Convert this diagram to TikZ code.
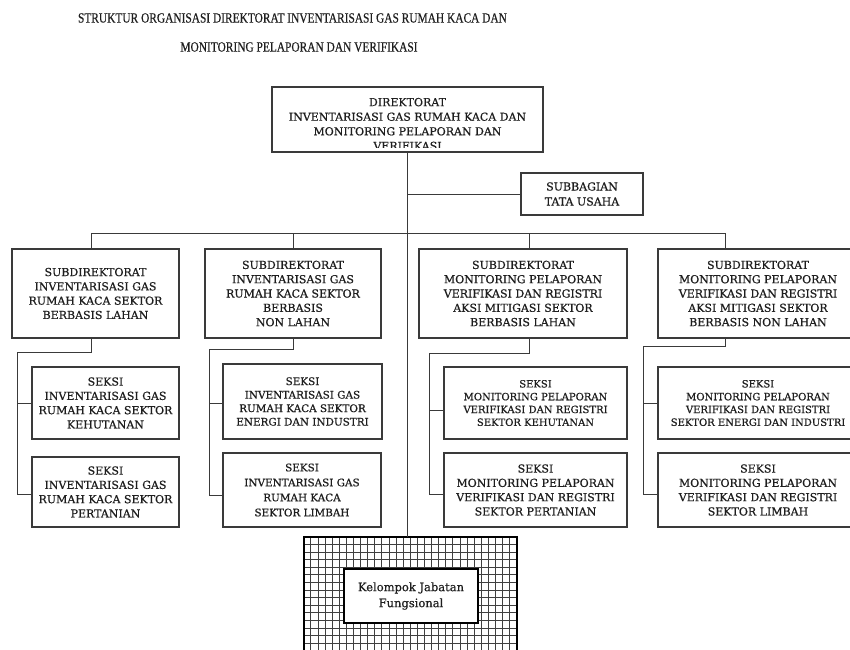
\documentclass[tikz,border=0pt]{standalone}
\usepackage{fontspec}
\setmainfont[FakeBold=0.6]{DejaVu Serif}
\newfontfamily\titlefont[FakeBold=0.4]{Liberation Serif}
\usetikzlibrary{calc}
\definecolor{ink}{HTML}{1e1e1e}
\definecolor{linec}{HTML}{3a3a3a}
\begin{document}
\begin{tikzpicture}[x=1pt,y=-1pt,
  box/.style={draw=linec, line width=1.2pt, inner sep=0pt, align=center, text=ink},
  big/.style={font=\fontsize{11}{14.3}\selectfont},
  mid/.style={font=\fontsize{10.4}{13.5}\selectfont},
  small/.style={font=\fontsize{10}{12.8}\selectfont},
  conn/.style={draw=linec, line width=1pt},
  ttl/.style={font=\titlefont\fontsize{14}{16}\selectfont, text=ink, inner sep=0pt}]
\useasboundingbox (0,0) rectangle (850,649);
\clip (0,0) rectangle (850,649);
\fill[white] (0,0) rectangle (850,649);
% title
\node[ttl] (t1) at (292.5,18) {\scalebox{0.815}[1]{STRUKTUR ORGANISASI DIREKTORAT INVENTARISASI GAS RUMAH KACA DAN}};
\node[ttl] (t2) at (299,47) {\scalebox{0.815}[1]{MONITORING PELAPORAN DAN VERIFIKASI}};
% direktorat
\node[box, minimum width=271, minimum height=65] (dir) at (407.5,119.5) {};
\begin{scope}
  \clip ($(dir.south west)+(0,-5)$) rectangle (dir.north east);
  \node[box, draw=none, font=\fontsize{11}{14.6}\selectfont] (dirt) at (407.5,124) {DIREKTORAT\\INVENTARISASI GAS RUMAH KACA DAN\\MONITORING PELAPORAN DAN\\VERIFIKASI};
\end{scope}
% subbagian
\node[box, minimum width=122, minimum height=42, font=\fontsize{11}{15}\selectfont] (sub) at (582,194) {SUBBAGIAN\\TATA USAHA};
% subdirektorat
\node[box, big, minimum width=167, minimum height=89] (s1) at (95.5,293.5) {SUBDIREKTORAT\\INVENTARISASI GAS\\RUMAH KACA SEKTOR\\BERBASIS LAHAN};
\node[box, big, minimum width=176, minimum height=89] (s2) at (293,293.5) {SUBDIREKTORAT\\INVENTARISASI GAS\\RUMAH KACA SEKTOR\\BERBASIS\\NON LAHAN};
\node[box, big, minimum width=208, minimum height=89] (s3) at (523,293.5) {SUBDIREKTORAT\\MONITORING PELAPORAN\\VERIFIKASI DAN REGISTRI\\AKSI MITIGASI SEKTOR\\BERBASIS LAHAN};
\node[box, big, minimum width=200, minimum height=89] (s4) at (758,293.5) {SUBDIREKTORAT\\MONITORING PELAPORAN\\VERIFIKASI DAN REGISTRI\\AKSI MITIGASI SEKTOR\\BERBASIS NON LAHAN};
% seksi
\node[box, big, minimum width=147, minimum height=72] (a1) at (105.5,403) {SEKSI\\INVENTARISASI GAS\\RUMAH KACA SEKTOR\\KEHUTANAN};
\node[box, big, minimum width=147, minimum height=70] (b1) at (105.5,492) {SEKSI\\INVENTARISASI GAS\\RUMAH KACA SEKTOR\\PERTANIAN};
\node[box, mid, minimum width=159, minimum height=75] (a2) at (302.5,401.5) {SEKSI\\INVENTARISASI GAS\\RUMAH KACA SEKTOR\\ENERGI DAN INDUSTRI};
\node[box, mid, minimum width=158, minimum height=74, font=\fontsize{10.4}{15}\selectfont] (b2) at (302,490) {SEKSI\\INVENTARISASI GAS\\RUMAH KACA\\SEKTOR LIMBAH};
\node[box, small, minimum width=183, minimum height=72] (a3) at (535.5,403) {SEKSI\\MONITORING PELAPORAN\\VERIFIKASI DAN REGISTRI\\SEKTOR KEHUTANAN};
\node[box, big, minimum width=183, minimum height=74] (b3) at (535.5,490) {SEKSI\\MONITORING PELAPORAN\\VERIFIKASI DAN REGISTRI\\SEKTOR PERTANIAN};
\node[box, small, minimum width=200, minimum height=72] (a4) at (758,403) {SEKSI\\MONITORING PELAPORAN\\VERIFIKASI DAN REGISTRI\\SEKTOR ENERGI DAN INDUSTRI};
\node[box, big, minimum width=200, minimum height=74] (b4) at (758,490) {SEKSI\\MONITORING PELAPORAN\\VERIFIKASI DAN REGISTRI\\SEKTOR LIMBAH};
% kelompok jabatan fungsional
\node[minimum width=213, minimum height=130, inner sep=0pt] (kel) at (410.5,602) {};
\begin{scope}
  \clip (kel.south west) rectangle (kel.north east);
  \foreach \gx in {0,7.1,...,213} \draw[black!75, line width=0.9pt] ($(kel.north west)+(\gx,0)$) -- ++(0,130);
  \foreach \gy in {0,7.6,...,130} \draw[black!75, line width=0.9pt] ($(kel.north west)+(0,\gy)$) -- ++(213,0);
\end{scope}
\draw[black, line width=2.2pt] (kel.south west) rectangle (kel.north east);
\node[box, fill=white, draw=black, line width=2pt, minimum width=134, minimum height=54, font=\fontsize{11.5}{16}\selectfont] (kj) at (411,596) {Kelompok Jabatan\\Fungsional};
% connectors
\draw[conn] (dir.south) -- (dir.south |- kel.north);
\draw[conn] (dir.south |- sub.west) -- (sub.west);
\draw[conn] ($(s1.north west)+(80,0)$) -- ++(0,-15) -- ($(s4.north west)+(68,-15)$) -- ++(0,15);
\draw[conn] ($(s2.north west)+(89,0)$) -- ++(0,-15);
\draw[conn] ($(s3.north west)+(111,0)$) -- ++(0,-15);
% branch 1
\coordinate (j1) at (17,352); \coordinate (e1) at (17,494);
\draw[conn] ($(s1.south west)+(80,0)$) |- (j1) -- (e1) -- (e1 -| b1.west);
\draw[conn] (j1 |- a1.west) -- (a1.west);
% branch 2
\coordinate (j2) at (209,349); \coordinate (e2) at (209,495);
\draw[conn] ($(s2.south west)+(89,0)$) |- (j2) -- (e2) -- (e2 -| b2.west);
\draw[conn] ($(j2 |- a2.west)+(0,1.5)$) -- ($(a2.west)+(0,1.5)$);
% branch 3
\coordinate (j3) at (429,353); \coordinate (e3) at (429,494);
\draw[conn] ($(s3.south west)+(111,0)$) |- (j3) -- (e3) -- (e3 -| b3.west);
\draw[conn] ($(j3 |- a3.west)+(0,7)$) -- ($(a3.west)+(0,7)$);
% branch 4
\coordinate (j4) at (643,346); \coordinate (e4) at (643,494);
\draw[conn] ($(s4.south west)+(68,0)$) |- (j4) -- (e4) -- (e4 -| b4.west);
\draw[conn] (j4 |- a4.west) -- (a4.west);
\end{tikzpicture}
\end{document}
